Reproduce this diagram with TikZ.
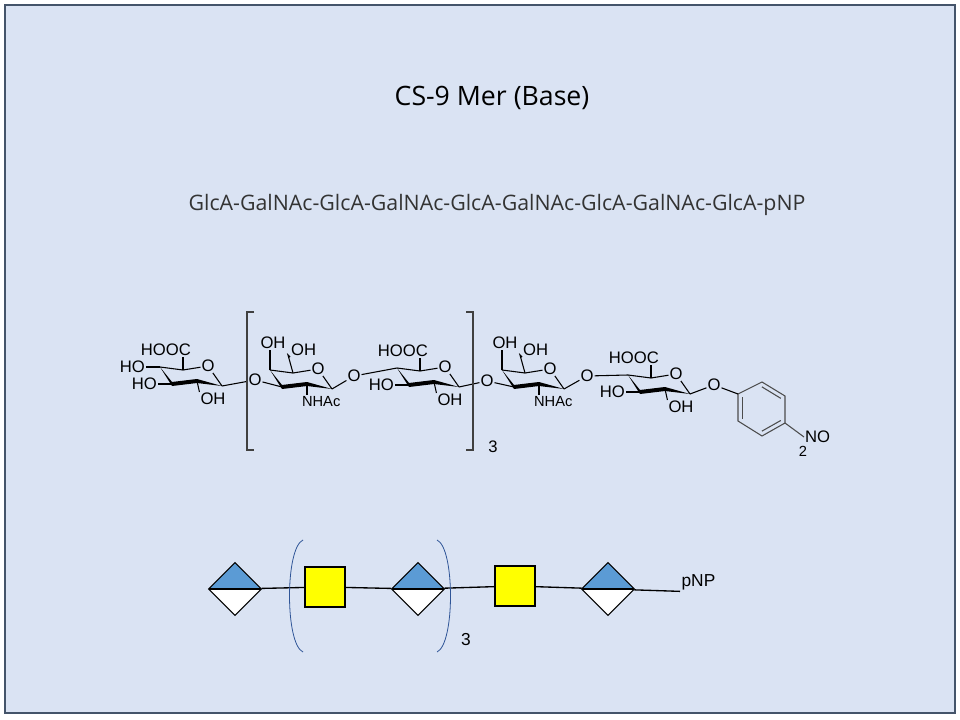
\documentclass[tikz,border=0pt]{standalone}
\usepackage{fontspec}
\setmainfont{Open Sans}
\newfontfamily\chemfont{Liberation Sans}
\usetikzlibrary{calc,positioning,shapes.geometric}

\definecolor{slidebg}{RGB}{218,227,243}
\definecolor{slideframe}{RGB}{68,84,106}
\definecolor{glcablue}{RGB}{91,155,213}
\definecolor{galnacyellow}{RGB}{255,255,0}
\definecolor{parenblue}{RGB}{47,85,151}

\tikzset{
  bond/.style={line width=0.8pt},
  atom/.style={font=\chemfont\fontsize{12.5}{12.5}\selectfont,inner sep=0.6pt},
  small atom/.style={font=\chemfont\fontsize{11}{11}\selectfont,inner sep=0.6pt},
  glca/.style={shape=diamond,draw,line width=0.8pt,fill=white,minimum width=40pt,minimum height=40pt,inner sep=0pt,
    path picture={\fill[glcablue] (path picture bounding box.west) -- (path picture bounding box.north)
      -- (path picture bounding box.east) -- cycle;
      \draw[line width=0.8pt] (path picture bounding box.west) -- (path picture bounding box.east);}},
  galnac/.style={shape=rectangle,draw,line width=0.8pt,fill=galnacyellow,minimum size=30pt,inner sep=0pt}
}

% chair ring: #1 x, #2 y (of C4), #3 name
\newcommand{\chairring}[3]{%
  \coordinate (#3c4) at (#1,#2);
  \coordinate (#3c3) at ($(#3c4)+(12,17)$);
  \coordinate (#3c2) at ($(#3c4)+(37,14)$);
  \coordinate (#3c1) at ($(#3c4)+(62,19)$);
  \coordinate (#3c5) at ($(#3c4)+(23,3)$);
  \node[atom] (#3o) at ($(#3c4)+(48,-1)$) {O};
  \draw[bond] (#3c4) -- (#3c5) -- (#3o) -- (#3c1);
  \fill (#3c4) -- ($(#3c3)+(0,-2)$) -- ($(#3c3)+(0,2)$) -- cycle;
  \draw[line width=3pt] (#3c3) -- (#3c2);
  \fill ($(#3c2)+(0,-2)$) -- ($(#3c2)+(0,2)$) -- (#3c1) -- cycle;
}
% glucuronic acid substituents
\newcommand{\glcasubs}[1]{%
  \node[atom,anchor=south east] (#1cooh) at ($(#1c5)+(9,-13)$) {HOOC};
  \draw[bond] (#1c5) -- (#1cooh.south east -| #1c5);
  \node[atom,anchor=east] (#1oh3) at ($(#1c3)+(-14,0)$) {HO};
  \draw[bond] (#1c3) -- (#1oh3);
  \node[atom,anchor=north] (#1oh2) at ($(#1c2)+(16,11)$) {OH};
  \draw[bond] (#1c2) -- (#1oh2.north west);
}
% galactosamine substituents
\newcommand{\galnacsubs}[1]{%
  \node[atom,anchor=south] (#1oh4) at ($(#1c4)+(3,-20)$) {OH};
  \draw[bond] (#1c4) -- (#1oh4.south -| #1c4);
  \coordinate (#1c6) at ($(#1c5)+(-5,-18)$);
  \node[atom,anchor=south west] (#1oh6) at ($(#1c6)+(2,2)$) {OH};
  \draw[bond] (#1c5) -- (#1c6) -- (#1oh6.south west);
  \node[small atom,anchor=north west] (#1nhac) at ($(#1c2)+(-6,11)$) {NHAc};
  \draw[bond] (#1c2) -- ($(#1c2)+(0,11)$);
}

\begin{document}
\begin{tikzpicture}[x=0.75pt,y=-0.75pt]
  \useasboundingbox (0,0) rectangle (960,720);
  \draw[fill=slidebg,draw=slideframe,line width=0.8pt] (5,5) rectangle (955,713);

  \node (title) at (492,98) {\fontsize{20}{20}\selectfont CS-9 Mer (Base)};
  \node[text=black!80] (sequence) at (497,205)
    {\fontsize{16}{16}\selectfont GlcA-GalNAc-GlcA-GalNAc-GlcA-GalNAc-GlcA-GalNAc-GlcA-pNP};

  % structure
  \chairring{160}{367}{ra}
  \chairring{270}{370}{rb}
  \chairring{397}{368}{rc}
  \chairring{502}{370}{rd}
  \chairring{628}{375}{re}
  \glcasubs{ra}
  \node[atom,anchor=east] (raoh4) at ($(rac4)+(-14,0)$) {HO};
  \draw[bond] (rac4) -- (raoh4);
  \galnacsubs{rb}
  \glcasubs{rc}
  \galnacsubs{rd}
  \glcasubs{re}

  \node[atom] (ga) at (255,380) {O};
  \node[atom] (gb) at (354,376) {O};
  \node[atom] (gc) at (487,381) {O};
  \node[atom] (gd) at (587,376) {O};
  \node[atom] (ge) at (714,385) {O};
  \draw[bond] (rac1) -- (ga) -- (rbc3);
  \draw[bond] (rbc1) -- (gb) -- (rcc4);
  \draw[bond] (rcc1) -- (gc) -- (rdc3);
  \draw[bond] (rdc1) -- (gd) -- (rec4);
  \draw[bond] (rec1) -- (ge);

  % nitrophenyl
  \coordinate (ba) at (738,394);
  \coordinate (bb) at (762,382);
  \coordinate (bc) at (785,396);
  \coordinate (bd) at (785,423);
  \coordinate (be) at (762,436);
  \coordinate (bf) at (738,421);
  \coordinate (bm) at (761.5,409);
  \draw[bond,draw=black!70] (ba) -- (bb) -- (bc) -- (bd) -- (be) -- (bf) -- cycle;
  \draw[bond,draw=black!70] ($(bb)!0.18!(bm)$) -- ($(bc)!0.18!(bm)$);
  \draw[bond,draw=black!70] ($(bd)!0.18!(bm)$) -- ($(be)!0.18!(bm)$);
  \draw[bond,draw=black!70] ($(bf)!0.18!(bm)$) -- ($(ba)!0.18!(bm)$);
  \draw[bond] (ge) -- (ba);
  \node[atom,anchor=west] (nitro) at (804,437) {NO};
  \node[small atom] (nitrosub) at (803,451) {2};
  \draw[bond,draw=black!70] (bd) -- (nitro.west);

  % repeat brackets
  \draw[bond,draw=black!75] (254,312) -- (247,312) -- (247,450) -- (254,450);
  \draw[bond,draw=black!75] (466,312) -- (473,312) -- (473,450) -- (466,450);
  \node[atom] (repeat) at (493,447) {3};

  % symbol nomenclature
  \node[glca] (sa) at (235,589) {};
  \node[galnac] (sb) at (325,587) {};
  \node[glca] (sc) at (418,589) {};
  \node[galnac] (sd) at (515,586) {};
  \node[glca] (se) at (608,589) {};
  \node[font=\chemfont\fontsize{13}{13}\selectfont,anchor=west,inner sep=1pt] (pnp) at (680,582) {pNP};
  \draw[line width=1pt] (sa) -- (sb) -- (sc) -- (sd) -- (se) -- (pnp.south west);
  \draw[parenblue,line width=0.6pt] (303,540) .. controls (285,548) and (285,644) .. (303,652);
  \draw[parenblue,line width=0.6pt] (437,540) .. controls (455,548) and (455,644) .. (437,652);
  \node[font=\chemfont\fontsize{13}{13}\selectfont] (symrepeat) at (466,640) {3};
\end{tikzpicture}
\end{document}
